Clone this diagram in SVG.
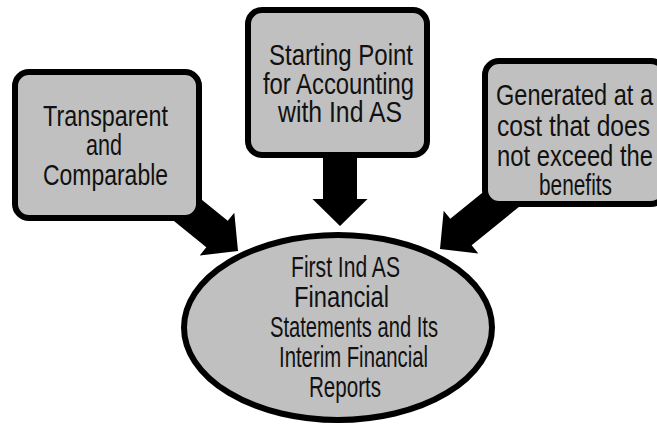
<svg xmlns="http://www.w3.org/2000/svg" width="657" height="425" viewBox="0 0 657 425">
<style>
.box{fill:#c0c0c0;stroke:#000;stroke-width:6}
.arrow{fill:#000;stroke:none}
.t{font-family:"Liberation Sans",Arial,sans-serif;font-size:30px;fill:#111}
</style>
<defs>
<path id="arr" d="M0,0 L-27.5,-27 L-17,-27 L-17,-100 L17,-100 L17,-27 L27.5,-27 Z"/>
</defs>
<rect width="657" height="425" fill="#fff"/>
<g id="connectors">
<path class="arrow" d="M340,226 L312.5,199 L323,199 L323,150 L357,150 L357,199 L367.5,199 Z"/>
<use href="#arr" class="arrow" transform="translate(238,251) rotate(-51)"/>
<use href="#arr" class="arrow" transform="translate(440,249) rotate(51)"/>
</g>
<g id="node-left">
<rect class="box" x="15" y="72" width="184" height="146" rx="14"/>
<text class="t" x="43" y="125.5" textLength="125" lengthAdjust="spacingAndGlyphs">Transparent</text>
<text class="t" x="86" y="155" textLength="36" lengthAdjust="spacingAndGlyphs">and</text>
<text class="t" x="43" y="185" textLength="125" lengthAdjust="spacingAndGlyphs">Comparable</text>
</g>
<g id="node-middle">
<rect class="box" x="248" y="10" width="179" height="145" rx="14"/>
<text class="t" x="269" y="65" textLength="144" lengthAdjust="spacingAndGlyphs">Starting Point</text>
<text class="t" x="263" y="93.5" textLength="151" lengthAdjust="spacingAndGlyphs">for Accounting</text>
<text class="t" x="278" y="122" textLength="124" lengthAdjust="spacingAndGlyphs">with Ind AS</text>
</g>
<g id="node-right">
<rect class="box" x="485" y="61" width="180" height="143" rx="14"/>
<text class="t" x="496" y="105" textLength="157" lengthAdjust="spacingAndGlyphs">Generated at a</text>
<text class="t" x="497" y="135.5" textLength="153" lengthAdjust="spacingAndGlyphs">cost that does</text>
<text class="t" x="497" y="166" textLength="156" lengthAdjust="spacingAndGlyphs">not exceed the</text>
<text class="t" x="539" y="195" textLength="73" lengthAdjust="spacingAndGlyphs">benefits</text>
</g>
<g id="node-center">
<ellipse class="box" cx="338" cy="327.5" rx="154" ry="92.5"/>
<text class="t" x="291" y="277" textLength="109" lengthAdjust="spacingAndGlyphs">First Ind AS</text>
<text class="t" x="294" y="307" textLength="95" lengthAdjust="spacingAndGlyphs">Financial</text>
<text class="t" x="270" y="337" textLength="168" lengthAdjust="spacingAndGlyphs">Statements and Its</text>
<text class="t" x="279" y="367" textLength="149" lengthAdjust="spacingAndGlyphs">Interim Financial</text>
<text class="t" x="309" y="397" textLength="72" lengthAdjust="spacingAndGlyphs">Reports</text>
</g>
</svg>
